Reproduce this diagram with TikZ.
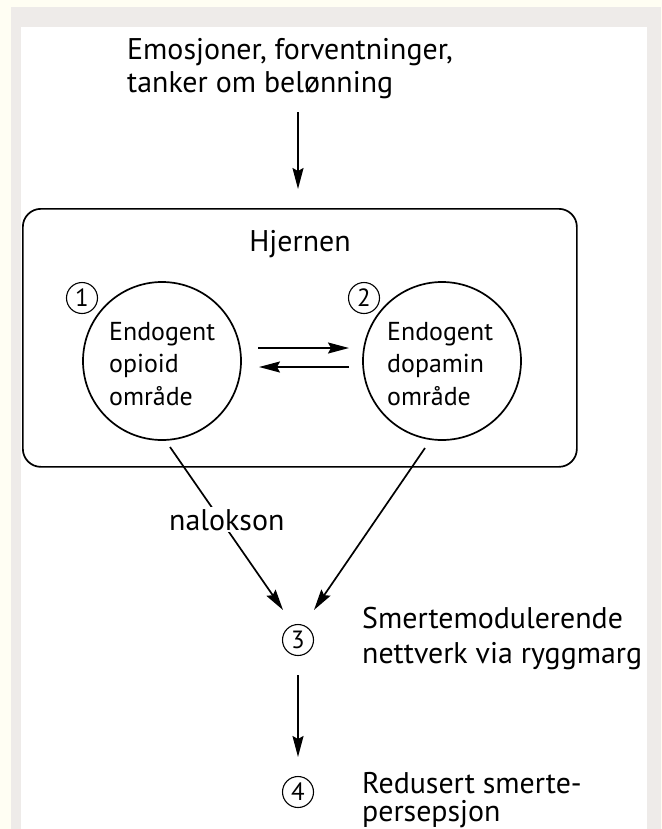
\documentclass[tikz,border=0pt]{standalone}
\usepackage{fontspec}
\setmainfont{PT Sans}
\usetikzlibrary{arrows.meta}
\definecolor{bgyellow}{HTML}{FFFEF3}
\definecolor{framegrey}{HTML}{EEEBE9}
\begin{document}
\begin{tikzpicture}[x=1bp,y=-1bp,
  line/.style={line width=1.7bp, black},
  arr/.style={line, -{Stealth[length=21bp,width=11bp,inset=3bp]}},
  lbl/.style={font=\fontsize{30}{30}\selectfont, inner sep=0pt, anchor=base west},
  intext/.style={font=\fontsize{26}{26}\selectfont, inner sep=0pt, anchor=base west},
  numc/.style={circle, draw, line width=1.1bp, inner sep=0pt, minimum size=31bp, font=\fontsize{25}{25}\selectfont},
  region/.style={circle, draw, line width=1.7bp, minimum size=158bp, inner sep=0pt}
]
\fill[bgyellow] (0,0) rectangle (662,829);
\fill[framegrey] (11,7) rectangle (661,829);
\fill[white] (21,27) rectangle (647,829);
\useasboundingbox (0,0) rectangle (662,829);

% top text
\node[lbl] (topa) at (127,59) {Emosjoner, forventninger,};
\node[lbl] (topb) at (127,92) {tanker om belønning};
\coordinate (topS) at (298,112);
\coordinate (topE) at (298,189);

% brain box
\node[draw, line width=1.7bp, rounded corners=18bp, minimum width=554bp, minimum height=258bp, anchor=north west, inner sep=0pt] (brain) at (22,208) {};
\node[lbl, anchor=base] (hj) at (300,251) {Hjernen};

% regions
\node[region] (c1) at (162,361) {};
\node[region] (c2) at (442,361) {};
\node[intext] (t1a) at (109,340) {Endogent};
\node[intext] (t1b) at (109,372.5) {opioid};
\node[intext] (t1c) at (109,405) {område};
\node[intext] (t2a) at (387,340) {Endogent};
\node[intext] (t2b) at (387,372.5) {dopamin};
\node[intext] (t2c) at (387,405) {område};
\node[numc] (n1) at (82,298) {1};
\node[numc] (n2) at (364,298) {2};

% exchange arrows
\coordinate (a1s) at (258,348);
\coordinate (a1e) at (349,348);
\coordinate (a2s) at (349,367);
\coordinate (a2e) at (259,367);

% lower nodes
\node[numc] (n3) at (298,640) {3};
\node[numc] (n4) at (298,792) {4};
\node[lbl] (t3a) at (362,628) {Smertemodulerende};
\node[lbl] (t3b) at (362,663) {nettverk via ryggmarg};
\node[lbl] (t4a) at (362,793) {Redusert smerte-};
\node[lbl] (t4b) at (362,821) {persepsjon};

\coordinate (l1) at (170,447);
\coordinate (l2) at (425,448);
\coordinate (e1) at (283,610);
\coordinate (e2) at (314,610);
\coordinate (d1) at (298,675);
\coordinate (d2) at (298,757);

\draw[arr] (topS) -- (topE);
\draw[arr] (a1s) -- (a1e);
\draw[arr] (a2s) -- (a2e);
\draw[arr] (l1) -- (e1);
\draw[arr] (l2) -- (e2);
\draw[arr] (d1) -- (d2);

\node[lbl, fill=white, inner sep=2bp] (nal) at (167,530) {nalokson};
\end{tikzpicture}
\end{document}
